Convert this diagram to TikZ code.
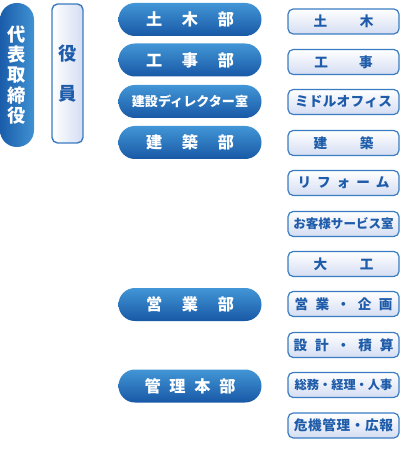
\documentclass[tikz,border=0pt]{standalone}
\usepackage{fontspec}
\newfontfamily\jp{Noto Sans CJK JP}
\usepackage{tikz}
\usetikzlibrary{positioning}
\definecolor{pilltop}{RGB}{66,150,214}
\definecolor{pillmid}{RGB}{40,122,196}
\definecolor{pillbot}{RGB}{24,88,166}
\definecolor{pilldark}{RGB}{26,92,170}
\definecolor{pilllight}{RGB}{64,146,210}
\definecolor{boxline}{RGB}{58,124,194}
\definecolor{boxfill}{RGB}{212,221,242}
\definecolor{boxtext}{RGB}{30,92,170}
\newcommand{\spread}[2]{\makebox[#1][s]{#2}}
\newcommand{\fs}[1]{\fontsize{#1}{#1}\selectfont}

\begin{document}
\begin{tikzpicture}[x=0.25mm,y=-0.25mm,
    bupill/.style={rounded corners=4.1mm,minimum width=35.75mm,minimum height=8.25mm,
      top color=pilltop,middle color=pillmid,bottom color=pillbot,inner sep=0pt,
      text=white,font=\jp\bfseries\fs{11.5}},
    kabox/.style={draw=boxline,line width=0.3mm,rounded corners=1.3mm,
      minimum width=27.75mm,minimum height=6.25mm,inner sep=0pt,
      top color=white,bottom color=boxfill,text=boxtext,
      font=\jp\bfseries\fs{9.7}}]
  \useasboundingbox (0,0) rectangle (400,462);

  % left column
  \node[rounded corners=4.2mm,minimum width=8.5mm,minimum height=36mm,inner sep=0pt,
        left color=pilldark,right color=pilllight,text=white,align=center,
        font=\jp\bfseries\fontsize{13}{14.4}\selectfont] (daihyo) at (17,75)
        {代\\表\\取\\締\\役};
  \node[draw=boxline,line width=0.35mm,rounded corners=1.4mm,minimum width=7.75mm,
        minimum height=34.75mm,inner sep=0pt,left color=white,right color=boxfill,
        text=boxtext,align=center,font=\jp\bfseries\fontsize{13}{29}\selectfont]
        (yakuin) at (67.5,73.5) {役\\員};

  % departments
  \node[bupill] (doboku) at (190,19.5) {\spread{22mm}{土\hfil 木\hfil 部}};
  \node[bupill] (koji) at (190,60) {\spread{22mm}{工\hfil 事\hfil 部}};
  \node[bupill] (director) at (190,101.5)
        {\fs{9.3}建設ディレクター室};
  \node[bupill] (kenchiku) at (190,142.5) {\spread{22mm}{建\hfil 築\hfil 部}};
  \node[bupill] (eigyo) at (190,304.5) {\spread{22mm}{営\hfil 業\hfil 部}};
  \node[bupill] (kanri) at (190,386) {\spread{22.75mm}{管\hfil 理\hfil 本\hfil 部}};

  % sections
  \node[kabox] (s-doboku) at (343.5,21.5) {\spread{15mm}{土\hfil 木}};
  \node[kabox] (s-koji) at (343.5,62) {\spread{14.6mm}{工\hfil 事}};
  \node[kabox] (s-middle) at (343.5,102)
        {\spread{24.2mm}{ミ\hfil ド\hfil ル\hfil オ\hfil フ\hfil ィ\hfil ス}};
  \node[kabox] (s-kenchiku) at (343.5,143) {\spread{15mm}{建\hfil 築}};
  \node[kabox] (s-reform) at (343.5,183)
        {\spread{23mm}{リ\hfil フ\hfil ォ\hfil ー\hfil ム}};
  \node[kabox] (s-service) at (343.5,224) {\fs{8.9}お客様サービス室};
  \node[kabox] (s-daiku) at (343.5,264) {\spread{15mm}{大\hfil 工}};
  \node[kabox] (s-kikaku) at (343.5,304)
        {\spread{24.5mm}{営\hfil 業\hfil ・\hfil 企\hfil 画}};
  \node[kabox] (s-sekisan) at (343.5,345)
        {\spread{25mm}{設\hfil 計\hfil ・\hfil 積\hfil 算}};
  \node[kabox] (s-somu) at (343.5,385) {\fs{8.7}総務・経理・人事};
  \node[kabox] (s-kiki) at (343.5,425.5)
        {\spread{24.8mm}{危\hfil 機\hfil 管\hfil 理\hfil ・\hfil 広\hfil 報}};
\end{tikzpicture}
\end{document}
